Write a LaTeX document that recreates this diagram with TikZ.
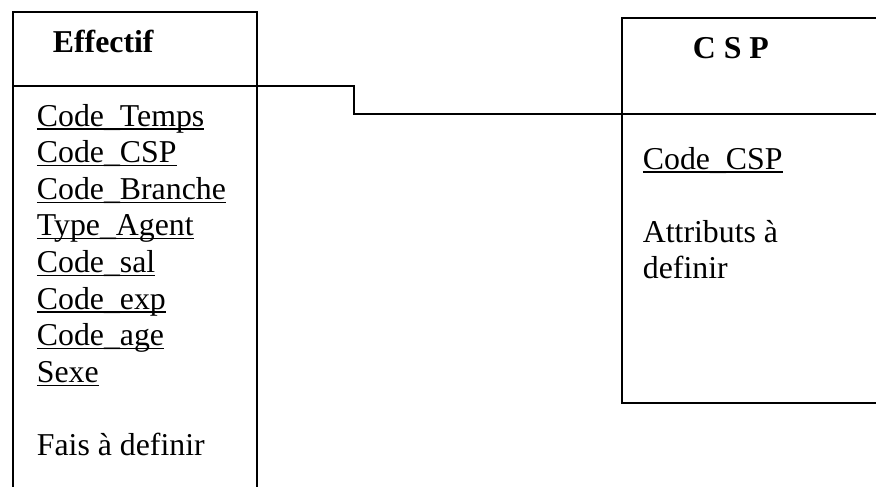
\documentclass[tikz,border=0pt]{standalone}
\usepackage{fontspec}
\setmainfont{Liberation Serif}
\newcommand\myul[1]{\setbox0=\hbox{#1}\rlap{\rule[-1.8pt]{\wd0}{0.6pt}}\box0}
\begin{document}
\begin{tikzpicture}[x=0.5pt,y=-0.5pt,line width=0.9pt,
  txt/.style={anchor=base west,inner sep=0pt,font=\fontsize{15.9}{18.3}\selectfont},
  hdr/.style={anchor=base west,inner sep=0pt,font=\fontsize{15.9}{18.3}\selectfont\bfseries}]
\useasboundingbox (0,0) rectangle (876,487);
% Effectif box
\coordinate (eTL) at (13,12);
\coordinate (eHR) at (257,86);
\coordinate (eHL) at (13,86);
\coordinate (eBL) at (13,487);
\coordinate (eBR) at (257,487);
\draw (eTL) rectangle (eHR);
\draw (eHL) -- (eBL);
\draw (eHR) -- (eBR);
\node[hdr] (eff) at (52,52) {Effectif};
\node[txt] (a1) at (36,126) {\myul{Code\_Temps}};
\node[txt] (a2) at (36,162.6) {\myul{Code\_CSP}};
\node[txt] (a3) at (36,199.2) {\myul{Code\_Branche}};
\node[txt] (a4) at (36,235.8) {\myul{Type\_Agent}};
\node[txt] (a5) at (36,272.4) {\myul{Code\_sal}};
\node[txt] (a6) at (36,309) {\myul{Code\_exp}};
\node[txt] (a7) at (36,345.6) {\myul{Code\_age}};
\node[txt] (a8) at (36,382.2) {\myul{Sexe}};
\node[txt] (a9) at (36,455.4) {Fais à definir};
% CSP box
\coordinate (cTL) at (622,18);
\coordinate (cTR) at (876,18);
\coordinate (cHL) at (622,114);
\coordinate (cHR) at (876,114);
\coordinate (cBL) at (622,403);
\coordinate (cBR) at (876,403);
\draw (cTR) -- (cTL) -- (cBL) -- (cBR);
\draw (cHL) -- (cHR);
\node[hdr] (csp) at (692,58) {C S P};
\node[txt] (b1) at (642,169) {\myul{Code\_CSP}};
\node[txt] (b2) at (642,242) {Attributs à};
\node[txt] (b3) at (642,278.6) {definir};
% connector
\draw (eHR) -- ++(97,0) |- (cHL);
\end{tikzpicture}
\end{document}
